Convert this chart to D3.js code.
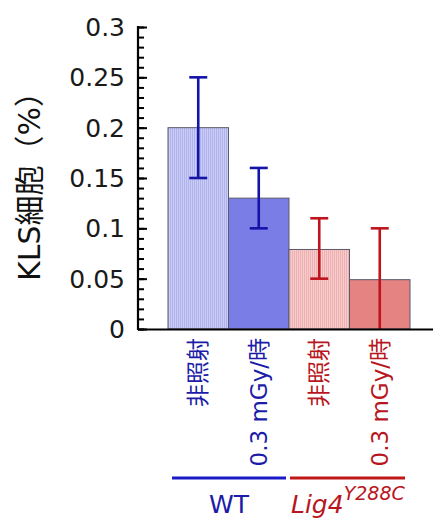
<!DOCTYPE html>
<html><head><meta charset="utf-8">
<script src="https://cdn.jsdelivr.net/npm/d3@7"></script>
<style>body{margin:0;background:#fff}svg{display:block}</style>
</head><body>
<script>
const categories = ["非照射", "0.3 mGy/時", "非照射", "0.3 mGy/時"];
const values = [0.2, 0.13, 0.079, 0.049];
const errLow = [0.15, 0.10, 0.05, 0.0];
const errHigh = [0.25, 0.16, 0.11, 0.10];
const groups = ["WT", "Lig4"];
const yTicks = [0, 0.05, 0.1, 0.15, 0.2, 0.25, 0.3];
const yTickLabels = ["0", "0.05", "0.1", "0.15", "0.2", "0.25", "0.3"];

const fills = ["url(#hb)", "#7b7de6", "url(#hr)", "#e58282"];
const textCol = ["#1c1ca8", "#1c1ca8", "#b8161e", "#b8161e"];
const errCol = ["#1414a8", "#1414a8", "#c0141c", "#c0141c"];
const font = "'DejaVu Sans','Noto Sans CJK JP',sans-serif";

const W = 433, H = 521;
const svg = d3.select("body").append("svg").attr("width", W).attr("height", H);
const defs = svg.append("defs");
function hatch(id, bg, line) {
  const p = defs.append("pattern").attr("id", id).attr("patternUnits", "userSpaceOnUse")
    .attr("width", 2).attr("height", 4);
  p.append("rect").attr("width", 2).attr("height", 4).attr("fill", bg);
  p.append("rect").attr("width", 1).attr("height", 4).attr("fill", line);
}
hatch("hb", "#cacdf4", "#afb2ec");
hatch("hr", "#f6cccc", "#eeb0b0");

const y = d3.scaleLinear().domain([0, 0.3]).range([329, 27]);
const x = d3.scaleBand().domain(d3.range(categories.length)).range([168, 410]).padding(0);
const axisX = 138;

// bars
svg.selectAll("rect.bar").data(values).join("rect").attr("class", "bar")
  .attr("x", (d, i) => x(i)).attr("width", x.bandwidth())
  .attr("y", d => y(d)).attr("height", d => y(0) - y(d))
  .attr("fill", (d, i) => fills[i]).attr("stroke", "#5a5a6a").attr("stroke-width", 1);

// error bars
values.forEach((v, i) => {
  const cx = x(i) + x.bandwidth() / 2;
  const g = svg.append("g").attr("stroke", errCol[i]).attr("stroke-width", 2.6);
  g.append("line").attr("x1", cx).attr("x2", cx).attr("y1", y(errLow[i])).attr("y2", y(errHigh[i]));
  g.append("line").attr("x1", cx - 9).attr("x2", cx + 9).attr("y1", y(errHigh[i])).attr("y2", y(errHigh[i]));
  if (errLow[i] > 0)
    g.append("line").attr("x1", cx - 9).attr("x2", cx + 9).attr("y1", y(errLow[i])).attr("y2", y(errLow[i]));
});

// y axis
const minor = d3.range(0, 0.3001, 0.01);
const yg = svg.append("g").attr("transform", `translate(${axisX},0)`);
yg.call(d3.axisRight(y).tickValues(minor).tickSize(6).tickFormat(""));
yg.select(".domain").remove();
yg.selectAll("line").attr("stroke", "#000").attr("stroke-width", 2);
const yg2 = svg.append("g").attr("transform", `translate(${axisX},0)`);
yg2.call(d3.axisRight(y).tickValues(yTicks).tickSize(9).tickFormat(""));
yg2.select(".domain").remove();
yg2.selectAll("line").attr("stroke", "#000").attr("stroke-width", 2);
svg.append("line").attr("x1", axisX).attr("x2", axisX).attr("y1", y(0.3) - 1).attr("y2", y(0) + 1)
  .attr("stroke", "#000").attr("stroke-width", 2.2);
svg.selectAll("text.ytl").data(yTicks).join("text").attr("class", "ytl")
  .attr("x", axisX - 13).attr("y", d => y(d)).attr("dy", "0.36em")
  .attr("text-anchor", "end").attr("font-family", font).attr("font-size", 25).attr("fill", "#1a1a1a")
  .text((d, i) => yTickLabels[i]);

// x axis line
svg.append("line").attr("x1", axisX).attr("x2", W).attr("y1", y(0) + 0.5).attr("y2", y(0) + 0.5)
  .attr("stroke", "#000").attr("stroke-width", 2.2);

// y label
svg.append("text").attr("transform", "translate(29,179) rotate(-90)")
  .attr("text-anchor", "middle").attr("dominant-baseline", "central")
  .attr("font-family", font).attr("font-size", 30).attr("fill", "#111")
  .text("KLS細胞（%）");

// category labels
categories.forEach((c, i) => {
  const cx = x(i) + x.bandwidth() / 2;
  svg.append("text").attr("transform", `translate(${cx},338) rotate(-90)`)
    .attr("text-anchor", "end").attr("dominant-baseline", "central")
    .attr("font-family", font).attr("font-size", 23).attr("fill", textCol[i]).text(c);
});

// group lines
svg.append("line").attr("x1", 172).attr("x2", 286).attr("y1", 478).attr("y2", 478)
  .attr("stroke", "#1a1ac8").attr("stroke-width", 3);
svg.append("line").attr("x1", 290).attr("x2", 405).attr("y1", 478).attr("y2", 478)
  .attr("stroke", "#c01818").attr("stroke-width", 3);
svg.append("text").attr("x", 229).attr("y", 513).attr("text-anchor", "middle")
  .attr("font-family", font).attr("font-size", 25).attr("fill", "#1c1ca8").text(groups[0]);
const lt = svg.append("text").attr("x", 291).attr("y", 513)
  .attr("font-family", font).attr("font-size", 25).attr("fill", "#b8161e");
lt.append("tspan").attr("font-style", "italic").text(groups[1]);
lt.append("tspan").attr("font-style", "italic").attr("font-size", 19).attr("dy", -13).text("Y288C");
</script>
</body></html>
